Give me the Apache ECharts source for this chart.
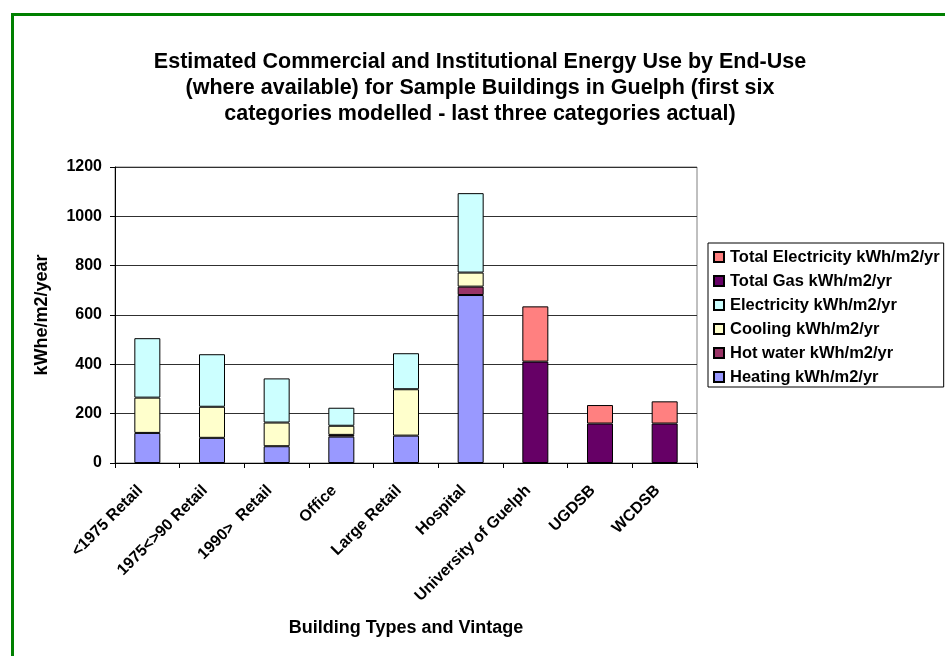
<!DOCTYPE html>
<html>
<head>
<meta charset="utf-8">
<script src="https://cdn.jsdelivr.net/npm/echarts@6/dist/echarts.min.js"></script>
<style>
html,body{margin:0;padding:0;background:#fff;}
#chart{width:945px;height:656px;}
</style>
</head>
<body>
<div id="chart"></div>
<script>
const categories = ['<1975 Retail', '1975<>90 Retail', '1990>  Retail', 'Office', 'Large Retail', 'Hospital', 'University of Guelph', 'UGDSB', 'WCDSB'];
const heating = [122, 102, 68, 107, 111, 681, null, null, null];
const hotWater = [null, null, null, 7, null, 34, null, null, null];
const cooling = [143, 126, 96, 37, 188, 57, null, null, null];
const electricity = [241, 213, 179, 73, 146, 322, null, null, null];
const totalGas = [null, null, null, null, null, null, 411, 160, 160];
const totalElectricity = [null, null, null, null, null, null, 224, 75, 90];
const yTicks = [0, 200, 400, 600, 800, 1000, 1200];

const FONT = 'Liberation Sans, Arial, sans-serif';
const chart = echarts.init(document.getElementById('chart'));

function s(name, data, color) {
  return {
    name: name, type: 'bar', stack: 'total', data: data,
    barWidth: 26,
    itemStyle: { color: color, borderColor: '#000', borderWidth: 1 }
  };
}

chart.setOption({
  backgroundColor: '#fff',
  animation: false,
  textStyle: { fontFamily: FONT },
  title: {
    text: 'Estimated Commercial and Institutional Energy Use by End-Use\n(where available) for Sample Buildings in Guelph (first six\ncategories modelled - last three categories actual)',
    left: 475, top: 44, textAlign: 'center',
    textStyle: { fontFamily: FONT, fontSize: 21.5, fontWeight: 'bold', color: '#000', lineHeight: 26 }
  },
  graphic: [{
    type: 'rect', left: 10, top: 12, silent: true,
    shape: { width: 1000, height: 700 },
    style: { fill: 'none', stroke: '#008000', lineWidth: 3 }
  }],
  legend: {
    orient: 'vertical', left: 708, top: 243,
    data: ['Total Electricity kWh/m2/yr', 'Total Gas kWh/m2/yr', 'Electricity kWh/m2/yr', 'Cooling kWh/m2/yr', 'Hot water kWh/m2/yr', 'Heating kWh/m2/yr'],
    itemWidth: 10, itemHeight: 10, itemGap: 6,
    padding: [5, 4, 1, 5],
    borderColor: '#000', borderWidth: 1,
    icon: 'rect',
    textStyle: { fontFamily: FONT, fontSize: 16.5, fontWeight: 'bold', color: '#000', lineHeight: 18, padding: [0, 0, 0, 1] }
  },
  grid: { left: 115, right: 248, top: 167, bottom: 193, show: true, borderColor: '#808080', borderWidth: 1 },
  xAxis: {
    type: 'category', data: categories,
    name: 'Building Types and Vintage', nameLocation: 'middle', nameGap: 156,
    nameTextStyle: { fontFamily: FONT, fontSize: 18, fontWeight: 'bold', color: '#000' },
    axisLine: { lineStyle: { color: '#000', width: 1 } },
    axisTick: { show: true, length: 5, lineStyle: { color: '#000' } },
    axisLabel: { rotate: 45, interval: 0, margin: 18, padding: [0, 10, 0, 0], fontFamily: FONT, fontSize: 16, fontWeight: 'bold', color: '#000' }
  },
  yAxis: {
    type: 'value', min: 0, max: 1200, interval: 200,
    name: 'kWhe/m2/year', nameLocation: 'middle', nameGap: 64, nameRotate: 90,
    nameTextStyle: { fontFamily: FONT, fontSize: 18, fontWeight: 'bold', color: '#000' },
    axisLine: { show: true, lineStyle: { color: '#000', width: 1 } },
    axisTick: { show: true, length: 5, lineStyle: { color: '#000' } },
    axisLabel: { margin: 13, fontFamily: FONT, fontSize: 16, fontWeight: 'bold', color: '#000',
      formatter: function (v) { return yTicks.indexOf(v) >= 0 ? String(v) : ''; } },
    splitLine: { show: true, lineStyle: { color: '#303030', width: 1 } }
  },
  series: [
    s('Heating kWh/m2/yr', heating, '#9999FF'),
    s('Hot water kWh/m2/yr', hotWater, '#993366'),
    s('Cooling kWh/m2/yr', cooling, '#FFFFCC'),
    s('Electricity kWh/m2/yr', electricity, '#CCFFFF'),
    s('Total Gas kWh/m2/yr', totalGas, '#660066'),
    s('Total Electricity kWh/m2/yr', totalElectricity, '#FF8080')
  ]
});
</script>
</body>
</html>
